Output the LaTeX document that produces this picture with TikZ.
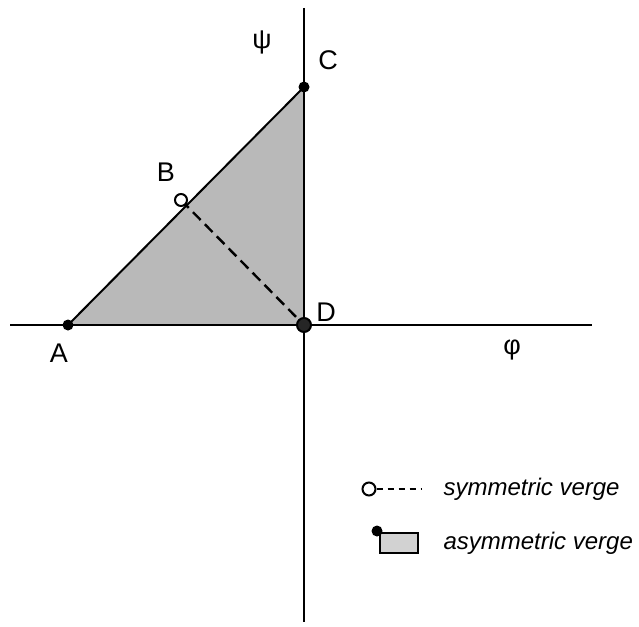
\documentclass[tikz,border=0pt]{standalone}
\usepackage{fontspec}
\setmainfont{Liberation Sans}
\begin{document}
\begin{tikzpicture}[x=1pt, y=-1pt,
	lbl/.style={font=\fontsize{27}{30}\selectfont},
	legtext/.style={font=\fontsize{24}{28}\selectfont\itshape, anchor=west},
	dot/.style={circle, fill=black, inner sep=0pt, minimum size=11pt},
	opendot/.style={circle, draw=black, fill=white, line width=2pt, inner sep=0pt, minimum size=12pt}]
	\useasboundingbox (0,0) rectangle (639,626);
	\coordinate (A) at (68,325);
	\coordinate (C) at (304,87);
	\coordinate (D) at (304,325);
	\coordinate (B) at (181,200);
	\fill[gray!55] (A)--(C)--(D)--cycle;
	\draw[line width=2pt] (A)--(C);
	\draw[line width=2pt] (10,325)--(592,325);
	\draw[line width=2pt] (304,8)--(304,622);
	\draw[line width=2.4pt, dash pattern=on 11pt off 6pt] (B)--(D);
	\node[dot] (a) at (A) {};
	\node[dot] (c) at (C) {};
	\node[opendot] (b) at (B) {};
	\node[opendot, fill=black!85, minimum size=14pt] (d) at (D) {};
	% étiquettes
	\node[lbl] at (59,353) {A};
	\node[lbl] at (166,172) {B};
	\node[lbl] at (328,60) {C};
	\node[lbl] at (326,312) {D};
	\node[lbl] at (262,42) {ψ};
	\node[lbl] at (512,350) {φ};
	% légende
	\node[opendot, minimum size=13pt] (s) at (369,489) {};
	\draw[line width=2pt, dash pattern=on 6pt off 5pt] (s.east)--(422,489);
	\node[legtext] at (440,489) {symmetric verge};
	\draw[line width=2pt, fill=gray!35] (380,533) rectangle (418,553);
	\node[dot] (t) at (377,531) {};
	\node[legtext] at (440,543) {asymmetric verge};
\end{tikzpicture}
\end{document}
